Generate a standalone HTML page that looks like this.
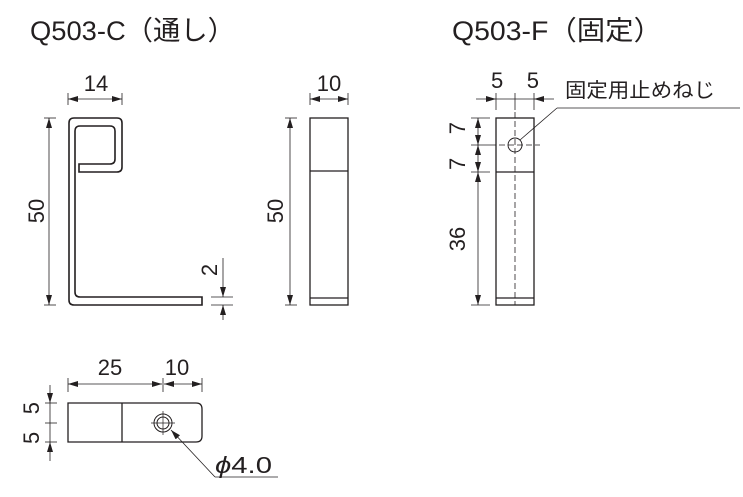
<!DOCTYPE html>
<html><head><meta charset="utf-8"><style>
html,body{margin:0;padding:0;background:#fff;}
svg{display:block;}
text{font-family:"Liberation Sans","Noto Sans CJK JP",sans-serif;fill:#231f20;}
</style></head><body>
<svg width="743" height="497" viewBox="0 0 743 497" xmlns="http://www.w3.org/2000/svg">
<defs>
<marker id="a" viewBox="0 0 10 6" refX="10" refY="3" markerWidth="10" markerHeight="6" orient="auto-start-reverse" markerUnits="userSpaceOnUse"><path d="M0,0 L10,3 L0,6 Z" fill="#231f20"/></marker>
</defs>
<text x="30" y="40" font-size="27" textLength="205" lengthAdjust="spacingAndGlyphs">Q503-C（通し）</text>
<text x="452" y="40" font-size="27" textLength="210" lengthAdjust="spacingAndGlyphs">Q503-F（固定）</text>

<g stroke="#231f20" fill="none" stroke-width="1.3">
<path d="M69 300 L69 123 Q69 118 74 118 L117 118 Q122 118 122 123 L122 167 Q122 172 117 172 L79 172 L79 164 L110 164 Q115 164 115 159 L115 131 Q115 126 110 126 L80 126 Q75 126 75 131 L75 292 Q75 297 80 297 L202 297 L202 305 L74 305 Q69 305 69 300 Z" stroke-width="1.6"/>
<line x1="68" y1="93" x2="68" y2="105" stroke-width="0.8"/><line x1="122" y1="93" x2="122" y2="105" stroke-width="0.8"/>
<line x1="68" y1="99" x2="122" y2="99" stroke-width="0.8" marker-start="url(#a)" marker-end="url(#a)"/>
<line x1="44" y1="118" x2="56" y2="118" stroke-width="0.8"/><line x1="44" y1="305" x2="56" y2="305" stroke-width="0.8"/>
<line x1="49" y1="118" x2="49" y2="305" stroke-width="0.8" marker-start="url(#a)" marker-end="url(#a)"/>
<line x1="211" y1="297" x2="233" y2="297" stroke-width="0.8"/><line x1="211" y1="305" x2="233" y2="305" stroke-width="0.8"/>
<line x1="223" y1="258" x2="223" y2="297" stroke-width="0.8" marker-end="url(#a)"/>
<line x1="223" y1="320" x2="223" y2="305" stroke-width="0.8" marker-end="url(#a)"/>

<rect x="310" y="118" width="38" height="187" stroke-width="1.3"/>
<line x1="310" y1="171" x2="348" y2="171"/><line x1="310" y1="298" x2="348" y2="298"/>
<line x1="310" y1="93" x2="310" y2="105" stroke-width="0.8"/><line x1="348" y1="93" x2="348" y2="105" stroke-width="0.8"/>
<line x1="310" y1="99" x2="348" y2="99" stroke-width="0.8" marker-start="url(#a)" marker-end="url(#a)"/>
<line x1="285" y1="118" x2="297" y2="118" stroke-width="0.8"/><line x1="285" y1="305" x2="297" y2="305" stroke-width="0.8"/>
<line x1="290" y1="118" x2="290" y2="305" stroke-width="0.8" marker-start="url(#a)" marker-end="url(#a)"/>

<rect x="496" y="118" width="38" height="187"/>
<line x1="496" y1="172" x2="534" y2="172"/><line x1="496" y1="298" x2="534" y2="298"/>
<line x1="515" y1="112" x2="515" y2="305" stroke-width="0.8" stroke-dasharray="6,3"/>
<line x1="490" y1="145" x2="540" y2="145" stroke-width="0.8" stroke-dasharray="6,3"/>
<circle cx="515" cy="145" r="7" stroke-width="1"/>
<line x1="496" y1="93" x2="496" y2="110" stroke-width="0.8"/><line x1="515" y1="93" x2="515" y2="110" stroke-width="0.8"/><line x1="534" y1="93" x2="534" y2="110" stroke-width="0.8"/>
<line x1="476" y1="99" x2="496" y2="99" stroke-width="0.8" marker-end="url(#a)"/>
<line x1="496" y1="99" x2="534" y2="99" stroke-width="0.8"/>
<line x1="554" y1="99" x2="534" y2="99" stroke-width="0.8" marker-end="url(#a)"/>
<line x1="520" y1="140" x2="557" y2="108" stroke-width="0.8"/>
<line x1="557" y1="108" x2="740" y2="108" stroke-width="0.8"/>
<line x1="471" y1="118" x2="490" y2="118" stroke-width="0.8"/><line x1="471" y1="145" x2="490" y2="145" stroke-width="0.8"/><line x1="471" y1="172" x2="490" y2="172" stroke-width="0.8"/><line x1="471" y1="305" x2="490" y2="305" stroke-width="0.8"/>
<line x1="478" y1="118" x2="478" y2="145" stroke-width="0.8" marker-start="url(#a)" marker-end="url(#a)"/>
<line x1="478" y1="145" x2="478" y2="172" stroke-width="0.8" marker-start="url(#a)" marker-end="url(#a)"/>
<line x1="478" y1="172" x2="478" y2="305" stroke-width="0.8" marker-start="url(#a)" marker-end="url(#a)"/>

<path d="M68 403 L196 403 Q202 403 202 409 L202 436 Q202 442 196 442 L68 442 Z"/>
<line x1="122" y1="403" x2="122" y2="442"/>
<circle cx="163" cy="423" r="9" stroke-width="1"/><circle cx="163" cy="423" r="6" stroke-width="1"/>
<line x1="151" y1="423" x2="175" y2="423" stroke-width="0.7"/><line x1="163" y1="411" x2="163" y2="435" stroke-width="0.7"/>
<line x1="68" y1="378" x2="68" y2="392" stroke-width="0.8"/><line x1="163" y1="378" x2="163" y2="392" stroke-width="0.8"/><line x1="202" y1="378" x2="202" y2="392" stroke-width="0.8"/>
<line x1="68" y1="384" x2="162" y2="384" stroke-width="0.8" marker-start="url(#a)" marker-end="url(#a)"/>
<line x1="164" y1="384" x2="202" y2="384" stroke-width="0.8" marker-start="url(#a)" marker-end="url(#a)"/>
<line x1="45" y1="403" x2="57" y2="403" stroke-width="0.8"/><line x1="45" y1="423" x2="57" y2="423" stroke-width="0.8"/><line x1="45" y1="442" x2="57" y2="442" stroke-width="0.8"/>
<line x1="50" y1="385" x2="50" y2="403" stroke-width="0.8" marker-end="url(#a)"/>
<line x1="50" y1="403" x2="50" y2="442" stroke-width="0.8"/>
<line x1="50" y1="461" x2="50" y2="442" stroke-width="0.8" marker-end="url(#a)"/>
<line x1="215" y1="477" x2="171" y2="430" stroke-width="0.8" marker-end="url(#a)"/>
<line x1="215" y1="477" x2="278" y2="477" stroke-width="0.8"/>
</g>

<g font-size="22">
<text x="96" y="91" text-anchor="middle">14</text>
<text x="329" y="91" text-anchor="middle">10</text>
<text x="515" y="88" text-anchor="middle" textLength="48" lengthAdjust="spacing">5 5</text>
<text x="565" y="97" font-size="20" textLength="150" lengthAdjust="spacingAndGlyphs">固定用止めねじ</text>
<text x="110" y="375" text-anchor="middle">25</text>
<text x="177" y="375" text-anchor="middle">10</text>
<text x="215" y="473" font-size="23" textLength="57" lengthAdjust="spacingAndGlyphs"><tspan font-style="italic">ϕ</tspan>4.0</text>
<text transform="translate(44,211) rotate(-90)" text-anchor="middle">50</text>
<text transform="translate(283,211) rotate(-90)" text-anchor="middle">50</text>
<text transform="translate(217,270) rotate(-90)" text-anchor="middle">2</text>
<text transform="translate(465,146) rotate(-90)" text-anchor="middle" textLength="48" lengthAdjust="spacing">7 7</text>
<text transform="translate(465,239) rotate(-90)" text-anchor="middle">36</text>
<text transform="translate(39,423) rotate(-90)" text-anchor="middle" textLength="42" lengthAdjust="spacing">5 5</text>
</g>
</svg>
</body></html>
